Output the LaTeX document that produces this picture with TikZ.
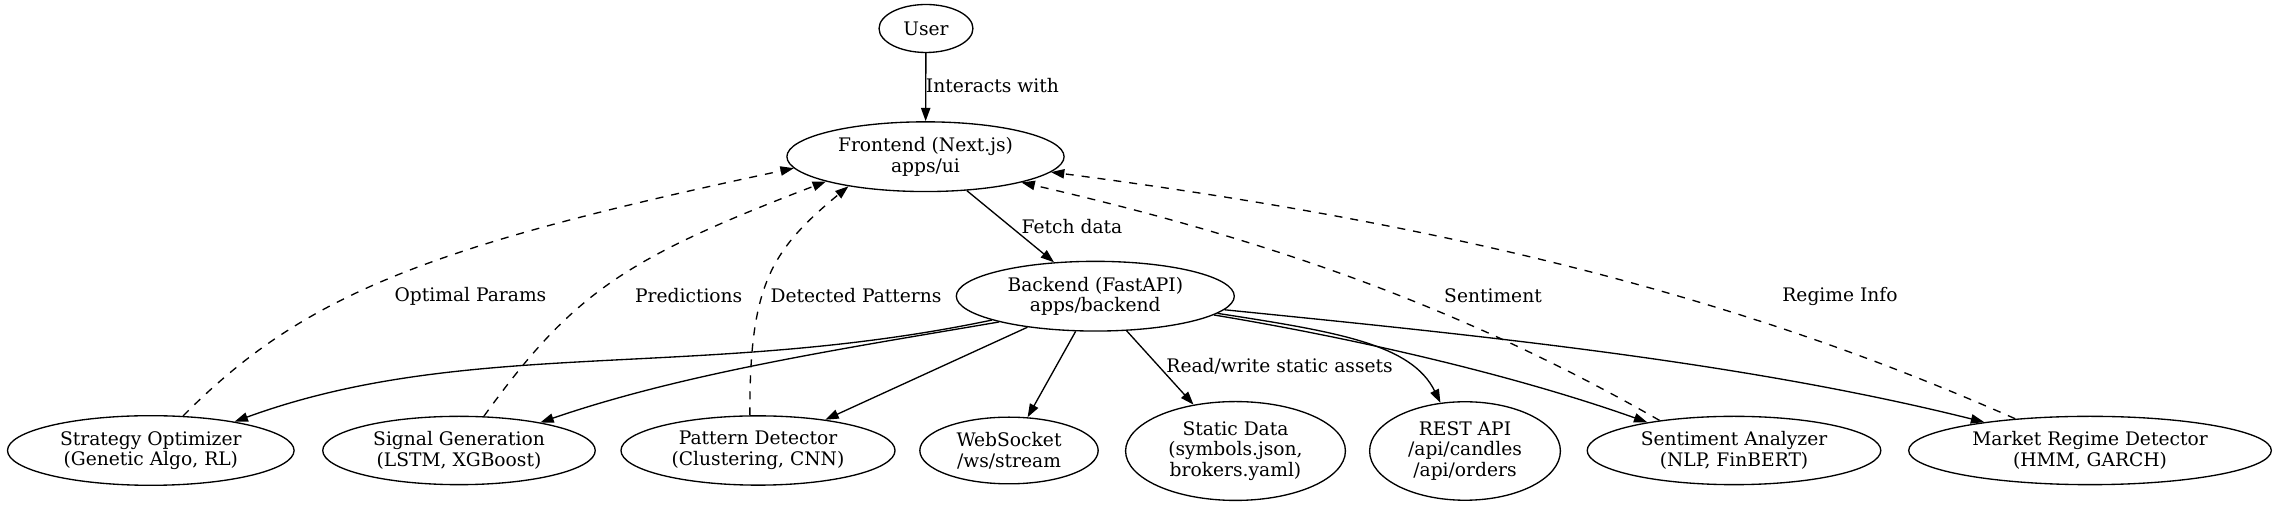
\documentclass[tikz,border=0pt]{standalone}
\usepackage{fontspec}
\setmainfont{DejaVu Serif}
\usetikzlibrary{arrows.meta,shapes.geometric}

\begin{document}
\begin{tikzpicture}[x=0.75pt,y=0.75pt,
    comp/.style={draw, ellipse, line width=1pt, align=center,
        font=\fontsize{14pt}{15.5pt}\selectfont,
        inner xsep=7.92pt, inner ysep=3.96pt,
        minimum width=54pt, minimum height=36pt},
    lbl/.style={font=\fontsize{14pt}{15.5pt}\selectfont, inner sep=0pt},
    flow/.style={line width=1pt, -{Triangle[length=10pt,width=7pt]}},
    feed/.style={flow, dash pattern=on 6pt off 6pt}]

    \fill[white] (0,0) rectangle (2278,506);

    % Top
    \node[comp] (user)  at (926,477.5)    {User};
    \node[comp] (front) at (925.5,349.3)  {Frontend (Next.js)\\apps/ui};
    \node[comp] (back)  at (1095.3,209.8) {Backend (FastAPI)\\apps/backend};

    % Bottom row
    \node[comp] (strat)   at (150.8,55.5) {Strategy Optimizer\\(Genetic Algo, RL)};
    \node[comp] (signal)  at (459,55.5)   {Signal Generation\\(LSTM, XGBoost)};
    \node[comp] (pattern) at (758,55.5)   {Pattern Detector\\(Clustering, CNN)};
    \node[comp] (ws)      at (1009,55.5)  {WebSocket\\/ws/stream};
    \node[comp] (static)  at (1235.5,55)  {Static Data\\(symbols.json,\\brokers.yaml)};
    \node[comp] (rest)    at (1465,55)    {REST API\\/api/candles\\/api/orders};
    \node[comp] (senti)   at (1734,55.5)  {Sentiment Analyzer\\(NLP, FinBERT)};
    \node[comp] (regime)  at (2090,55.5)  {Market Regime Detector\\(HMM, GARCH)};

    % Edge labels
    \node[lbl] (lint)   at (992.4,420.3)  {Interacts with};
    \node[lbl] (lfetch) at (1072,279.3)   {Fetch data};
    \node[lbl] (lopt)   at (470.5,210)    {Optimal Params};
    \node[lbl] (lpred)  at (688.7,210)    {Predictions};
    \node[lbl] (ldet)   at (856,210)      {Detected Patterns};
    \node[lbl] (lsent)  at (1493,210)     {Sentiment};
    \node[lbl] (lreg)   at (1840,210)     {Regime Info};
    \node[lbl] (lrw)    at (1279.6,139.3) {Read/write static assets};

    % Requests
    \draw[flow] (user) -- (front);
    \draw[flow] (front) -- (back);
    \draw[flow] (back.193) .. controls (701,125) and (468.5,169.8) .. (strat.19);
    \draw[flow] (back.195) .. controls (847,158) and (684.6,133.2) .. (signal.19);
    \draw[flow] (back) -- (pattern);
    \draw[flow] (back) -- (ws);
    \draw[flow] (back) -- (static);
    \draw[flow] (back.352) .. controls (1338.6,174) and (1411.7,161.6) .. (rest.117);
    \draw[flow] (back.351) .. controls (1364.4,166) and (1518.5,129.4) .. (senti.162);
    \draw[flow] (back.354) .. controls (1472.8,171.2) and (1740.3,144.8) .. (regime.165);

    % Results back to the frontend
    \draw[feed] (strat.47) .. controls (302.6,210.2) and (424.3,259.5) .. (front.185);
    \draw[feed] (signal.54) .. controls (572.4,212) and (623.1,247) .. (front.194);
    \draw[feed] (pattern.103) .. controls (749.5,220) and (770,255) .. (front.201);
    \draw[feed] (senti.158) .. controls (1472.6,192.5) and (1281.8,263.8) .. (front.345);
    \draw[feed] (regime.157) .. controls (1743.3,207.5) and (1456.2,281) .. (front.353);

\end{tikzpicture}
\end{document}
